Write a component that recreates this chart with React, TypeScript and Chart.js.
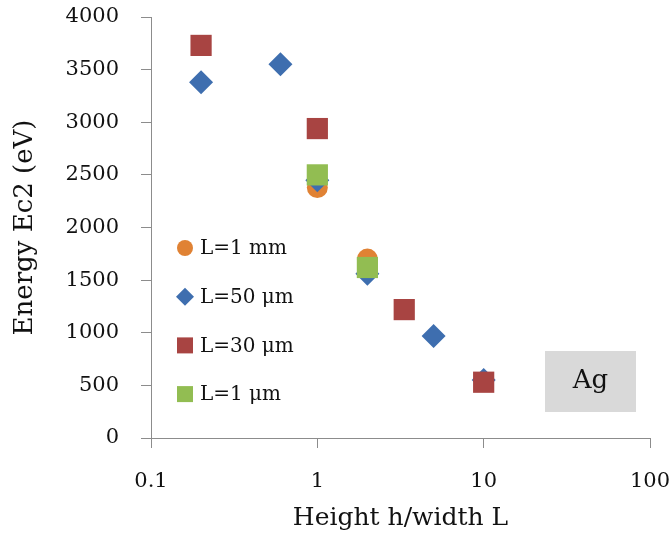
import React, { useEffect, useRef } from 'react';
import { Chart, registerables } from 'chart.js';
Chart.register(...registerables);

const seriesLabels = ['L=1 mm', 'L=50 μm', 'L=30 μm', 'L=1 μm'];
const seriesColors = ['#E08234', '#3E6EAF', '#A84442', '#92BD52'];
const seriesStyles = ['circle', 'rectRot', 'rect', 'rect'];
const mm1X = [1, 2];
const mm1Y = [2380, 1700];
const um50X = [0.2, 0.6, 1, 2, 5, 10];
const um50Y = [3380, 3550, 2450, 1560, 970, 550];
const um30X = [0.2, 1, 3.33, 10];
const um30Y = [3730, 2940, 1220, 530];
const um1X = [1, 2];
const um1Y = [2500, 1620];
const xTickValues = [0.1, 1, 10, 100];
const yMin = 0;
const yMax = 4000;
const yStep = 500;
const xTitle = 'Height h/width L';
const yTitle = 'Energy Ec2 (eV)';
const boxLabel = 'Ag';

const FONT = "'DejaVu Serif', serif";

const toPoints = (xs: number[], ys: number[]) => xs.map((x, i) => ({ x, y: ys[i] }));

const overlayPlugin = {
  id: 'overlay',
  afterDatasetsDraw(chart: any) {
    const { ctx, chartArea } = chart;
    ctx.save();
    // legend
    const lx = chartArea.left + 34;
    const ly0 = chartArea.top + 231;
    const gap = 48.7;
    seriesLabels.forEach((label, i) => {
      const y = ly0 + i * gap;
      ctx.fillStyle = seriesColors[i];
      const st = seriesStyles[i];
      ctx.beginPath();
      if (st === 'circle') {
        ctx.arc(lx, y, 8, 0, Math.PI * 2);
      } else if (st === 'rectRot') {
        ctx.moveTo(lx - 9, y);
        ctx.lineTo(lx, y - 9);
        ctx.lineTo(lx + 9, y);
        ctx.lineTo(lx, y + 9);
        ctx.closePath();
      } else {
        ctx.rect(lx - 8, y - 8, 16, 16);
      }
      ctx.fill();
      ctx.fillStyle = '#111';
      ctx.font = `20px ${FONT}`;
      ctx.textAlign = 'left';
      ctx.textBaseline = 'middle';
      ctx.fillText(label, lx + 15, y + 1);
    });
    // Ag box
    const bx = chartArea.left + 394;
    const by = chartArea.top + 334;
    const bw = 91;
    const bh = 61;
    ctx.fillStyle = '#D9D9D9';
    ctx.fillRect(bx, by, bw, bh);
    ctx.fillStyle = '#111';
    ctx.font = `26px ${FONT}`;
    ctx.textAlign = 'center';
    ctx.textBaseline = 'middle';
    ctx.fillText(boxLabel, bx + bw / 2, by + bh / 2);
    ctx.restore();
  },
};

export default function App() {
  const ref = useRef<HTMLCanvasElement>(null);
  useEffect(() => {
    const canvas = ref.current;
    if (!canvas) return;
    const make = (i: number, xs: number[], ys: number[], r: number, order: number) => ({
      label: seriesLabels[i],
      data: toPoints(xs, ys),
      backgroundColor: seriesColors[i],
      borderColor: seriesColors[i],
      borderWidth: 0,
      pointStyle: seriesStyles[i],
      pointRadius: r,
      pointHoverRadius: r,
      showLine: false,
      order,
    });
    const chart = new Chart(canvas, {
      type: 'scatter',
      data: {
        datasets: [
          make(0, mm1X, mm1Y, 10.5, 4),
          make(1, um50X, um50Y, 12, 3),
          make(2, um30X, um30Y, 15, 2),
          make(3, um1X, um1Y, 15, 1),
        ],
      },
      options: {
        animation: false,
        responsive: false,
        layout: { padding: { top: 17, right: 22, left: 0, bottom: 0 } },
        plugins: { legend: { display: false }, tooltip: { enabled: false } },
        scales: {
          x: {
            type: 'logarithmic',
            min: 0.1,
            max: 100,
            afterBuildTicks: (scale: any) => {
              scale.ticks = xTickValues.map((v) => ({ value: v }));
            },
            afterFit: (scale: any) => {
              scale.height = 105;
              scale.paddingLeft = 0;
              scale.paddingRight = 0;
            },
            ticks: {
              color: '#111',
              font: { family: FONT, size: 21 },
              padding: 21,
              maxRotation: 0,
              autoSkip: false,
              callback: (v: any) => String(v),
            },
            grid: { drawOnChartArea: false, drawTicks: true, tickLength: 10, color: '#8C8C8C', lineWidth: 1 },
            border: { display: true, color: '#8C8C8C', width: 1 },
            title: {
              display: true,
              text: xTitle,
              color: '#111',
              font: { family: FONT, size: 25 },
              padding: { top: 8, bottom: 10 },
            },
          },
          y: {
            min: yMin,
            max: yMax,
            afterFit: (scale: any) => {
              scale.width = 151;
              scale.paddingTop = 0;
              scale.paddingBottom = 0;
            },
            ticks: {
              stepSize: yStep,
              color: '#111',
              font: { family: FONT, size: 21 },
              padding: 22,
              callback: (v: any) => String(v),
            },
            grid: { drawOnChartArea: false, drawTicks: true, tickLength: 10, color: '#8C8C8C', lineWidth: 1 },
            border: { display: true, color: '#8C8C8C', width: 1 },
            title: {
              display: true,
              text: yTitle,
              color: '#111',
              font: { family: FONT, size: 26 },
              padding: { top: 10, bottom: 0 },
            },
          },
        },
      },
      plugins: [overlayPlugin],
    } as any);
    return () => chart.destroy();
  }, []);
  return (
    <div style={{ position: 'fixed', left: 0, top: 0, width: 672, height: 543, background: '#fff' }}>
      <canvas ref={ref} width={672} height={543} style={{ width: 672, height: 543 }} />
    </div>
  );
}
